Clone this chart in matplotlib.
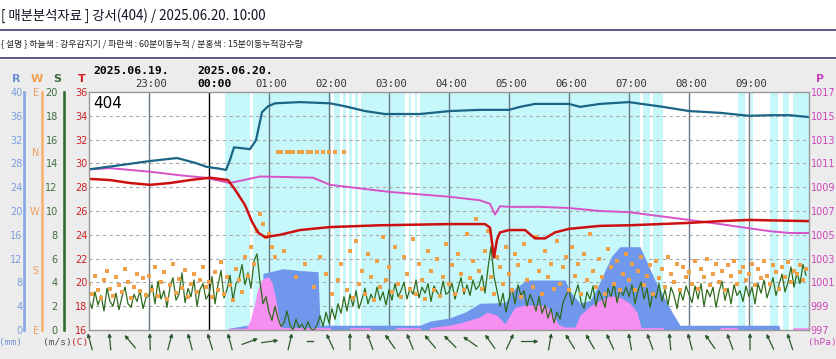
import numpy as np
import matplotlib
matplotlib.use("Agg")
import matplotlib.pyplot as plt
import matplotlib.transforms as mtransforms
from matplotlib.patches import Rectangle
from matplotlib.lines import Line2D

# ---------------- data (x = minutes after 2025.06.19 22:00) ----------------
hour_ticks = [60, 120, 180, 240, 300, 360, 420, 480, 540, 600, 660]
hour_labels = ['23:00', '00:00', '01:00', '02:00', '03:00', '04:00',
               '05:00', '06:00', '07:00', '08:00', '09:00']

# rain detector (sky blue) on-intervals
detect_start = [136, 164, 245, 254, 260, 266, 272, 320, 326, 331, 554, 564, 649, 662, 681, 694, 704]
detect_end   = [161, 242, 251, 257, 263, 269, 316, 322, 328, 551, 561, 574, 656, 664, 689, 700, 720]

# humidity-like teal line (drawn on T scale)
hum_min = [0, 31, 61, 88, 106, 118, 131, 137, 141, 145, 161, 167, 173, 179, 186, 211, 241,
           256, 276, 296, 331, 361, 391, 420, 431, 446, 480, 491, 511, 540, 574, 600,
           631, 660, 681, 701, 719]
hum_val = [29.5, 29.85, 30.2, 30.45, 30.05, 29.7, 29.55, 29.45, 30.3, 31.35, 31.2, 31.95,
           34.3, 34.8, 35.05, 35.15, 35.05, 34.8, 34.4, 34.15, 34.15, 34.4, 34.5, 34.5,
           34.75, 35.0, 35.0, 34.75, 35.0, 35.15, 34.75, 34.4, 34.25, 34.0, 34.05, 34.05, 33.9]

# temperature (C)
temp_min = [0, 21, 41, 61, 81, 101, 121, 139, 146, 156, 163, 169, 176, 191, 211, 241, 291,
            360, 396, 401, 405, 408, 411, 420, 436, 446, 456, 466, 480, 511, 540, 571,
            600, 631, 660, 719]
temp_val = [28.7, 28.6, 28.35, 28.2, 28.35, 28.6, 28.8, 28.6, 27.8, 26.5, 25.1, 24.2, 23.8,
            24.0, 24.4, 24.65, 24.8, 24.9, 24.9, 24.6, 22.1, 23.6, 24.2, 24.4, 24.4, 23.7,
            23.7, 24.2, 24.5, 24.75, 24.8, 24.9, 25.0, 25.15, 25.25, 25.15]

# pressure (hPa)
pres_min = [0, 21, 61, 91, 116, 141, 171, 224, 241, 301, 360, 391, 401, 406, 411, 420, 451,
            480, 511, 540, 600, 631, 660, 681, 701, 719]
pres_val = [1010.5, 1010.6, 1010.3, 1010.0, 1009.8, 1009.35, 1009.9, 1009.8, 1009.2, 1008.6,
            1008.2, 1007.9, 1007.6, 1006.7, 1007.4, 1007.35, 1007.35, 1007.25, 1007.0,
            1006.9, 1006.25, 1005.9, 1005.55, 1005.3, 1005.15, 1005.15]

# 60-minute moving rainfall (mm)
rain60_min = [0, 139, 140, 158, 173, 174, 194, 211, 229, 231, 331, 341, 360, 376, 391, 416,
              426, 438, 476, 481, 491, 501, 508, 516, 523, 531, 551, 559, 567, 575, 583, 591,
              690, 691, 720]
rain60_val = [0, 0, 0.3, 0.8, 0.8, 9.5, 10.3, 10.0, 9.8, 0.8, 0.8, 1.5, 2.0, 3.0, 4.5, 4.6,
              7.0, 8.4, 8.4, 6.5, 4.5, 5.0, 7.0, 10.0, 12.5, 14.0, 14.0, 11.0, 8.0, 5.5, 3.0,
              0.8, 0.8, 0, 0]

# 15-minute moving rainfall (mm)
rain15_min = [0, 139, 140, 157, 161, 165, 169, 173, 179, 183, 187, 190, 193, 241, 242, 260,
              261, 281, 282, 306, 307, 331, 332, 340, 341, 360, 371, 381, 391, 398, 408, 416,
              421, 426, 436, 456, 463, 469, 476, 486, 491, 501, 511, 521, 531, 541, 548, 552,
              560, 561, 574, 575, 630, 631, 648, 649, 703, 704, 720]
rain15_val = [0, 0, 0.3, 0.3, 1.5, 4.0, 7.0, 8.5, 9.0, 8.0, 5.0, 2.0, 0.4, 0.4, 0, 0, 0.4,
              0.4, 0, 0, 0.4, 0.4, 0, 0, 0.4, 0.8, 1.2, 1.7, 2.2, 3.0, 2.5, 1.0, 2.5, 3.8, 4.2,
              4.2, 3.0, 1.0, 0.5, 0.5, 2.5, 4.0, 5.0, 5.8, 5.5, 4.5, 3.0, 0.4, 0.4, 0.4, 0.4,
              0, 0, 0.4, 0.4, 0, 0, 0.4, 0.4]

# wind speed (m/s), every 3 minutes
wspd = [2.5, 1.8, 3.2, 2.1, 2.9, 1.6, 3.5, 2.4, 2.0, 3.1, 1.7, 2.8, 3.6, 2.2, 1.9, 3.0, 2.4, 3.3, 1.8, 2.7,
        2.9, 3.8, 2.2, 4.1, 2.6, 3.3, 1.9, 3.6, 4.4, 2.5, 3.0, 4.8, 2.3, 3.5, 2.8, 4.2, 2.0, 3.4, 3.9, 2.6,
        3.0, 4.5, 2.2, 3.8, 5.0, 2.7, 3.4, 4.6, 2.5, 3.9, 4.3, 5.5, 3.8, 4.8, 3.5, 5.8, 6.4, 4.0, 2.2, 2.8,
        1.5, 0.8, 2.0, 1.0, 0.3, 0.6, 1.6, 0.4, 0.0, 0.9, 0.2, 0.5, 0.0, 0.7, 0.1, 0.0, 0.4, 1.2, 0.3, 1.5,
        0.6, 1.8, 0.9, 2.2, 1.4, 2.8, 1.6, 3.0, 2.0, 3.3, 1.8, 2.6, 3.5, 2.2, 3.0, 2.4, 3.6, 2.5, 3.2, 2.1,
        3.4, 2.5, 3.9, 2.8, 3.3, 4.0, 2.6, 3.5, 3.0, 4.2, 2.7, 3.6, 3.1, 3.9, 2.4, 3.7, 3.2, 2.8, 4.1, 3.0,
        3.2, 3.9, 2.6, 3.5, 4.4, 3.0, 3.8, 2.9, 4.2, 3.4, 3.7, 4.6, 3.1, 5.2, 7.0, 4.5, 3.3, 2.0, 3.1, 1.5,
        2.6, 3.5, 2.2, 3.8, 2.9, 3.3, 2.0, 3.0, 2.4, 1.6, 2.8, 1.4, 2.1, 1.0, 1.8, 0.6, 1.5, 0.9, 2.3, 2.9,
        3.4, 2.1, 3.0, 3.8, 2.4, 1.8, 3.2, 2.6, 3.7, 2.0, 3.3, 2.7, 1.9, 3.5, 2.8, 3.9, 2.3, 3.4, 2.9, 3.6,
        2.8, 3.8, 2.2, 3.3, 4.0, 2.6, 3.5, 1.9, 3.2, 2.7, 3.9, 2.4, 3.4, 2.1, 3.6, 2.9, 1.8, 3.3, 2.5, 3.7,
        3.0, 2.3, 3.7, 2.6, 3.9, 2.0, 3.4, 2.8, 3.6, 1.9, 3.2, 4.1, 2.5, 3.5, 2.2, 3.8, 2.9, 3.3, 2.4, 3.7,
        2.8, 3.6, 2.2, 3.9, 3.1, 4.2, 2.7, 3.5, 4.4, 2.9, 3.8, 4.7, 3.2, 4.0, 5.3, 3.6, 4.8, 3.9, 5.5, 4.6]

# wind direction (deg, 0 = N), every 3 minutes
wdir = [160, 145, 172, 150, 138, 165, 180, 152, 141, 170, 158, 147, 183, 162, 139, 155, 175, 149, 168, 143,
        171, 150, 186, 142, 163, 178, 137, 158, 190, 146, 167, 153, 181, 140, 160, 174, 148, 165, 185, 155,
        162, 140, 178, 150, 193, 145, 170, 158, 136, 182, 165, 148, 200, 172, 215, 190, 240, 265, 250, 230,
        235, 215, 200, 0, 0, 210, 0, 0, 0, 170, 0, 0, 190, 0, 0, 155, 0, 200, 0, 175,
        0, 145, 0, 165, 190, 0, 150, 210, 138, 225, 160, 180, 145, 205, 170, 135, 195, 155, 230, 165,
        185, 148, 215, 160, 140, 200, 175, 152, 228, 145, 190, 165, 137, 210, 180, 150, 198, 142, 170, 220,
        160, 188, 145, 205, 175, 150, 235, 168, 195, 258, 180, 152, 210, 240, 170, 145, 200, 185, 160, 215,
        175, 150, 205, 188, 140, 220, 165, 195, 155, 230, 180, 145, 210, 170, 190, 152, 225, 160, 185, 200,
        150, 215, 172, 190, 145, 205, 165, 235, 180, 155, 198, 170, 145, 212, 185, 160, 195, 150, 175, 205,
        165, 190, 150, 180, 200, 158, 172, 188, 145, 195, 168, 182, 155, 200, 175, 162, 190, 150, 185, 170,
        178, 160, 195, 152, 183, 170, 198, 158, 175, 190, 162, 180, 150, 188, 172, 195, 160, 178, 185, 165,
        175, 190, 158, 182, 168, 195, 172, 160, 188, 178, 152, 185, 170, 193, 162, 180, 175, 188, 165, 182]

# wind arrows every 20 minutes (direction wind comes from, deg); nan = calm
arrow_dir = [165, 175, 140, 178, 195, 165, 163, 165, 250, 262, 193, np.nan,
             155, 180, 160, 145, 158, 140, 135, 125, 145, 205, 270, 190,
             148, 150, 155, 170, 160, 175, 165, 145, 160, 180, 155, 162]

# ---------------- figure ----------------
W, H, DPI = 837, 359, 100
fig = plt.figure(figsize=(W / DPI, H / DPI), dpi=DPI)
fig.patch.set_facecolor('white')

def fx(px):
    return px / W

def fy(py):
    return 1 - py / H

KR = ['Noto Sans CJK KR', 'DejaVu Sans']

# header
fig.text(fx(1), fy(16), '[ 매분분석자료 ] 강서(404) / 2025.06.20. 10:00', family=KR,
         fontsize=9.6, color='#111122', va='center', ha='left')
fig.add_artist(Line2D([0, 1], [fy(29.5), fy(29.5)], transform=fig.transFigure, color='#2a2a6e', lw=1.1))
fig.text(fx(1), fy(44), '{ 설명 } 하늘색 : 강우감지기 / 파란색 : 60분이동누적 / 분홍색 : 15분이동누적강수량',
         family=KR, fontsize=6.4, color='#222222', va='center', ha='left')
fig.add_artist(Line2D([0, 1], [fy(57.5), fy(57.5)], transform=fig.transFigure, color='#2a2a6e', lw=1.1))
fig.patches.append(Rectangle((0, 0), 1, fy(60), transform=fig.transFigure,
                             facecolor='#ececec', edgecolor='none', zorder=-10))

L, R_, T_, B_ = 89, 809, 92, 330
rect = [fx(L), fy(B_), fx(R_ - L), (B_ - T_) / H]
XMAX = 720

ax = fig.add_axes(rect)
ax.set_facecolor('white')
ax.set_xlim(0, XMAX)
ax.set_ylim(16, 36)

# rain detector bands
for s, e in zip(detect_start, detect_end):
    ax.axvspan(s, e, color='#c6f7fa', lw=0, zorder=0)
# grid
for t in range(18, 36, 2):
    ax.axhline(t, color='#a8a8a8', lw=0.8, dashes=(3, 3), zorder=1)
for h in hour_ticks:
    ax.axvline(h, color='black' if h == 120 else '#687884', lw=1.0, zorder=1)

ax.set_xticks([])
ax.set_yticks(range(16, 37, 2))
ax.tick_params(axis='y', length=0, pad=1.2, labelcolor='#cc2222', labelsize=7)
for s in ax.spines.values():
    s.set_visible(False)

def left_scale(axx, offset_px, color, lblcolor, ticks, labels, pad_pt):
    for s in ['top', 'bottom', 'right']:
        axx.spines[s].set_visible(False)
    sp = axx.spines['left']
    sp.set_visible(True)
    sp.set_position(('outward', offset_px * 72 / DPI))
    sp.set_color(color)
    sp.set_linewidth(2.6 * 72 / DPI)
    axx.yaxis.tick_left()
    axx.set_yticks(ticks)
    axx.set_yticklabels(labels)
    axx.tick_params(axis='y', length=0, pad=pad_pt, labelcolor=lblcolor, labelsize=7)

# rainfall
axR = ax.twinx()
axR.set_ylim(0, 40)
axR.fill_between(rain60_min, 0, rain60_val, color='#6f97ec', lw=0)
axR.fill_between(rain15_min, 0, rain15_val, color='#f58ff0', lw=0)
left_scale(axR, L - 24, '#82a6e8', '#7c9edc', list(range(0, 41, 4)),
           [str(v) for v in range(0, 41, 4)], 1.0)

# wind speed
axS = ax.twinx()
axS.set_ylim(0, 20)
wmin = np.arange(0, 720, 3)
axS.plot(wmin, wspd, color='#2e6b1c', lw=0.9)
left_scale(axS, L - 64, '#2f6b2f', '#3f6f3f', list(range(0, 21, 2)),
           [str(v) for v in range(0, 21, 2)], 4.5)

# wind direction
axW = ax.twinx()
axW.set_ylim(0, 1)
wfrac = [((d - 90) % 360) / 360 for d in wdir]
axW.scatter(wmin, wfrac, s=6, marker='s', color='#f0a048', linewidths=0, zorder=3)
left_scale(axW, L - 42, '#f5b272', '#f0a060', [0, 0.25, 0.5, 0.75, 1.0],
           ['E', 'S', 'W', 'N', 'E'], 2.2)

# pressure
axP = ax.twinx()
axP.set_ylim(997, 1017)
axP.plot(pres_min, pres_val, color='#d752c8', lw=1.4)
for s in ['top', 'bottom', 'left', 'right']:
    axP.spines[s].set_visible(False)
axP.set_yticks(range(997, 1018, 2))
axP.tick_params(axis='y', length=0, pad=1.2, labelcolor='#cc44bb', labelsize=7)

# temperature & teal line
axT = ax.twinx()
axT.set_ylim(16, 36)
axT.plot(hum_min, hum_val, color='#1a6585', lw=1.6)
axT.plot(temp_min, temp_val, color='#cc1010', lw=1.8)
axT.set_yticks([])
for s in axT.spines.values():
    s.set_visible(True)
    s.set_color('#999999')
    s.set_linewidth(1.0)
axT.text(4 / 720, (330 - 104) / 238, '404', transform=axT.transAxes, fontsize=11,
         color='black', va='center', ha='left')
for a in (ax, axR, axS, axW, axP, axT):
    a.set_xlim(0, XMAX)

# top time labels
tr = mtransforms.blended_transform_factory(ax.transData, fig.transFigure)
mono = 'DejaVu Sans Mono'
for h, lab in zip(hour_ticks, hour_labels):
    if h == 120:
        ax.text(108, fy(84), lab, transform=tr, ha='left', va='center', family=mono,
                fontsize=8.2, fontweight='bold', color='black')
    else:
        ax.text(h + 2, fy(84), lab, transform=tr, ha='center', va='center', family=mono,
                fontsize=7.6, color='#333333')
ax.text(4, fy(71), '2025.06.19.', transform=tr, ha='left', va='center', family=mono,
        fontsize=8.2, fontweight='bold', color='black')
ax.text(108, fy(71), '2025.06.20.', transform=tr, ha='left', va='center', family=mono,
        fontsize=8.2, fontweight='bold', color='black')

# column headers and units
for x, lab, c in [(16, 'R', '#6f8fd8'), (37, 'W', '#f0a050'), (57, 'S', '#3b6b3b'),
                  (82, 'T', '#cc2222'), (820, 'P', '#cc44bb')]:
    fig.text(fx(x), fy(79), lab, ha='center', va='center', fontsize=8, fontweight='bold', color=c)
for x, lab, c in [(11, '(mm)', '#6f8fd8'), (57, '(m/s)', '#445544'), (80, '(C)', '#cc2222'),
                  (822, '(hPa)', '#cc44bb')]:
    fig.text(fx(x), fy(343), lab, ha='center', va='center', fontsize=6.8, family=mono, color=c)

# wind arrow strip
axA = fig.add_axes([fx(L), 0, fx(R_ - L), (359 - 331) / H])
axA.set_xlim(0, XMAX)
axA.set_ylim(0, 28)
axA.axis('off')
arrow_min = np.arange(1, 720, 20)
LEN = 17
for xm, d in zip(arrow_min, arrow_dir):
    yc = 17.5
    if np.isnan(d):
        axA.plot([xm - 3, xm + 3], [yc + 1, yc + 1], color='#2d5a2d', lw=1, clip_on=False)
        continue
    r = np.deg2rad(d)
    dx, dy = -np.sin(r), -np.cos(r)
    axA.annotate('', xy=(xm + dx * LEN / 2, yc + dy * LEN / 2),
                 xytext=(xm - dx * LEN / 2, yc - dy * LEN / 2),
                 arrowprops=dict(arrowstyle='-|>', color='#2d5a2d', lw=0.9,
                                 mutation_scale=5, shrinkA=0, shrinkB=0),
                 annotation_clip=False)

fig.savefig('out.png', dpi=DPI)
